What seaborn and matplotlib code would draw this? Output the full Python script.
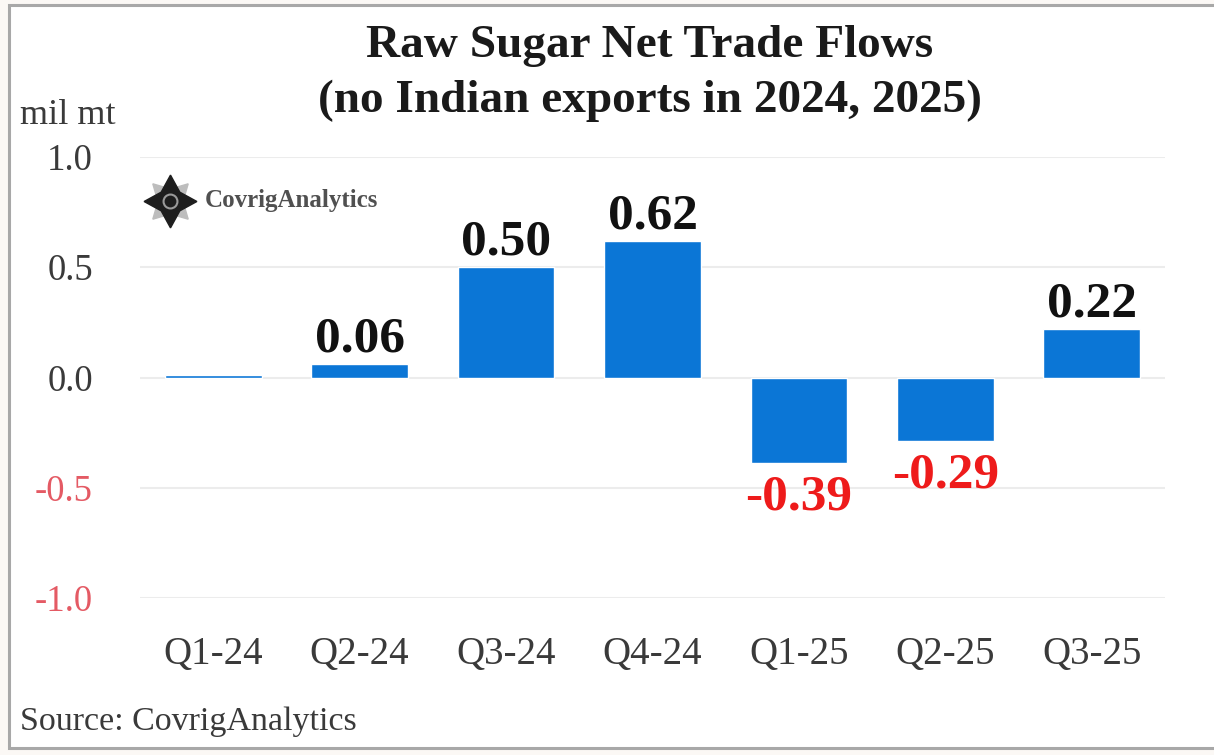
import matplotlib
matplotlib.use("Agg")
import matplotlib.pyplot as plt
import seaborn as sns
import pandas as pd
from matplotlib.patches import Rectangle

quarters = ["Q1-24", "Q2-24", "Q3-24", "Q4-24", "Q1-25", "Q2-25", "Q3-25"]
net_flows = [0.01, 0.06, 0.50, 0.62, -0.39, -0.29, 0.22]
value_labels = ["", "0.06", "0.50", "0.62", "-0.39", "-0.29", "0.22"]
y_ticks = [-1.0, -0.5, 0.0, 0.5, 1.0]
y_tick_labels = ["-1.0", "-0.5", "0.0", "0.5", "1.0"]

sns.set_theme(style="white")
plt.rcParams["font.family"] = ["Liberation Serif", "DejaVu Serif"]

BAR = "#0B76D6"
NEG_RED = "#EE1B1B"
TICK_RED = "#E45A64"
TXT = "#3a3a3a"

fig = plt.figure(figsize=(12.14, 7.55), dpi=100, facecolor="#fbf8f5")
# white card with a grey frame
fig.patches.append(Rectangle((9 / 1214, 7 / 755), 1.0, 743 / 755, transform=fig.transFigure,
                             facecolor="white", edgecolor="#a8a8a8", linewidth=2.2, zorder=-1))

ax = fig.add_axes([140 / 1214, 1 - 598 / 755, 1025 / 1214, 441 / 755])
ax.set_facecolor("none")

df = pd.DataFrame({"quarter": quarters, "flow": net_flows})
sns.barplot(data=df, x="quarter", y="flow", color=BAR, saturation=1, width=0.66, ax=ax, zorder=3)

ax.set_xlim(-0.5, len(quarters) - 0.5)
ax.set_ylim(-1.0, 1.0)
ax.set_yticks(y_ticks)
ax.set_yticklabels(y_tick_labels)
for t, v in zip(ax.get_yticklabels(), y_ticks):
    t.set_color(TICK_RED if v < 0 else TXT)
ax.grid(axis="y", color="#ececec", linewidth=1.5, zorder=0)
ax.tick_params(axis="y", length=0, pad=34, labelsize=26.5)
ax.tick_params(axis="x", length=0, pad=27, labelsize=28, labelcolor=TXT)
ax.set_xlabel("")
ax.set_ylabel("")
for s in ax.spines.values():
    s.set_visible(False)

# value labels above / below bars
for i, (v, lab) in enumerate(zip(net_flows, value_labels)):
    if not lab:
        continue
    if v >= 0:
        ax.annotate(lab, (i, v), xytext=(0, 1), textcoords="offset points",
                    ha="center", va="bottom", fontsize=37, fontweight="bold", color="#111111")
    else:
        ax.annotate(lab, (i, v), xytext=(0, -8), textcoords="offset points",
                    ha="center", va="top", fontsize=37, fontweight="bold", color=NEG_RED)

# title and unit
fig.text(650 / 1214, 1 - 46 / 755, "Raw Sugar Net Trade Flows", ha="center", va="center",
         fontsize=34, fontweight="bold", color="#1a1a1a")
fig.text(650 / 1214, 1 - 101 / 755, "(no Indian exports in 2024, 2025)", ha="center", va="center",
         fontsize=34, fontweight="bold", color="#1a1a1a")
fig.text(68 / 1214, 1 - 115 / 755, "mil mt", ha="center", va="center", fontsize=26, color=TXT)

# brand mark
lx, ly = 170 / 1214, 1 - 201 / 755
fig.lines.append(plt.Line2D([lx], [ly], transform=fig.transFigure, marker=(4, 1, 45),
                            markersize=36, color="#bdbdbd", linestyle="none"))
fig.lines.append(plt.Line2D([lx], [ly], transform=fig.transFigure, marker=(4, 1, 0),
                            markersize=38, color="#1e1e1e", linestyle="none"))
fig.lines.append(plt.Line2D([lx], [ly], transform=fig.transFigure, marker="o",
                            markersize=10, markerfacecolor="#1e1e1e", markeredgecolor="#9a9a9a",
                            markeredgewidth=1.5, linestyle="none"))
fig.text(205 / 1214, ly, "CovrigAnalytics", ha="left", va="center", fontsize=18,
         color="#505050", fontweight="bold")

fig.text(20 / 1214, 1 - 722 / 755, "Source: CovrigAnalytics", ha="left", va="center",
         fontsize=24.5, color=TXT)

fig.savefig("out.png", dpi=100, facecolor=fig.get_facecolor())
